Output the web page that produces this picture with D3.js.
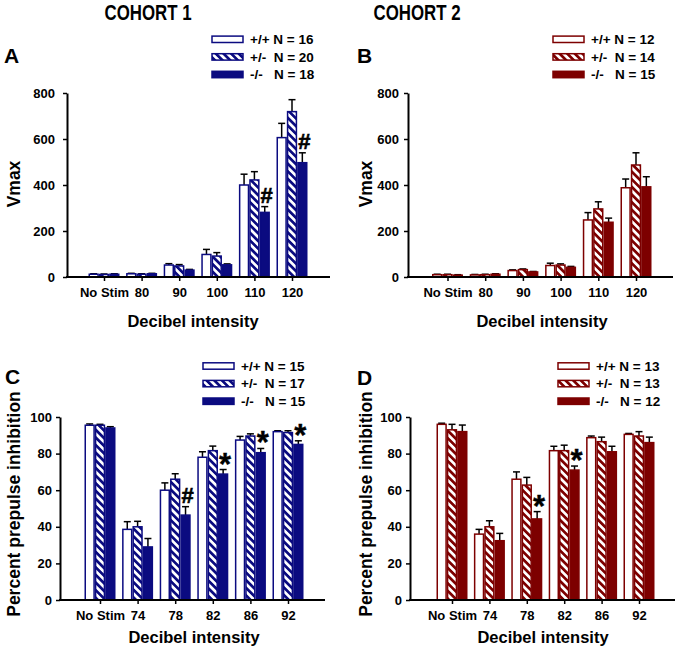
<!DOCTYPE html>
<html><head><meta charset="utf-8">
<script src="https://cdn.jsdelivr.net/npm/d3@7"></script>
<style>
body{margin:0;background:#fff}
svg{display:block}
text{font-family:"Liberation Sans",Arial,sans-serif;font-weight:bold;fill:#000}
</style>
</head><body>
<svg id="chart" width="681" height="652"></svg>
<script>
// ---------- data ----------
const genotypes = ["+/+", "+/-", "-/-"];
const vmaxCategories = ["No Stim", "80", "90", "100", "110", "120"];
const ppiCategories = ["No Stim", "74", "78", "82", "86", "92"];
const vmaxTicks = [0, 200, 400, 600, 800];
const ppiTicks = [0, 20, 40, 60, 80, 100];

// Panel A: Cohort 1 Vmax
const aWT = [12, 14, 52, 98, 400, 606];
const aWTerr = [2, 2, 6, 22, 47, 62];
const aHET = [11, 12, 48, 91, 422, 719];
const aHETerr = [2, 2, 6, 15, 36, 52];
const aKO = [12, 14, 30, 53, 281, 497];
const aKOerr = [2, 2, 3, 4, 25, 43];
const aLegend = ["+/+ N = 16", "+/-  N = 20", "-/-   N = 18"];

// Panel B: Cohort 2 Vmax
const bWT = [10, 9, 28, 50, 248, 388];
const bWTerr = [2, 2, 3, 10, 32, 38];
const bHET = [10, 10, 32, 52, 296, 487];
const bHETerr = [2, 2, 3, 5, 31, 53];
const bKO = [8, 12, 22, 42, 238, 392];
const bKOerr = [2, 2, 2, 4, 18, 44];
const bLegend = ["+/+ N = 12", "+/-  N = 14", "-/-   N = 15"];

// Panel C: Cohort 1 PPI
const cWT = [95.5, 38.6, 60, 78, 87.4, 92];
const cWTerr = [0.7, 4.2, 4, 3, 2, 0.5];
const cHET = [95.5, 40, 66, 81.6, 89.6, 91.5];
const cHETerr = [0.5, 3, 3, 2.5, 1.2, 1];
const cKO = [94, 29, 46.4, 68.8, 80.5, 85];
const cKOerr = [0.7, 4.6, 4.6, 2.5, 2.3, 2];
const cLegend = ["+/+ N = 15", "+/-  N = 17", "-/-   N = 15"];

// Panel D: Cohort 2 PPI
const dWT = [96, 36, 66, 81.6, 88.7, 90.5];
const dWTerr = [0.6, 2.6, 4, 2.4, 0.9, 0.5];
const dHET = [93, 40, 62.8, 81.6, 86.5, 89.6];
const dHETerr = [3, 3.3, 4.2, 3, 2.5, 2.4];
const dKO = [92, 32.4, 44.3, 71, 81, 86];
const dKOerr = [3.6, 4, 4, 2.2, 3, 3];
const dLegend = ["+/+ N = 13", "+/-  N = 13", "-/-   N = 12"];

// significance markers: [category index, genotype index, symbol]
const aMarks = [[4, 2, "#"], [5, 2, "#"]];
const bMarks = [];
const cMarks = [[2, 2, "#"], [3, 2, "*"], [4, 2, "*"], [5, 2, "*"]];
const dMarks = [[2, 2, "*"], [3, 2, "*"]];

const cohortTitles = ["COHORT 1", "COHORT 2"];

// ---------- drawing ----------
const BLUE = "#0b0b80";
const RED = "#7d0000";
const svg = d3.select("#chart");
const defs = svg.append("defs");

function makeHatch(id, color) {
  const p = defs.append("pattern")
    .attr("id", id).attr("patternUnits", "userSpaceOnUse")
    .attr("width", 5.4).attr("height", 5.4)
    .attr("patternTransform", "rotate(-45)");
  p.append("rect").attr("width", 5.4).attr("height", 5.4).attr("fill", "#fff");
  p.append("rect").attr("x", 0).attr("width", 2.7).attr("height", 5.4).attr("fill", color);
}
makeHatch("hatchBlue", BLUE);
makeHatch("hatchRed", RED);

svg.selectAll("text.cohort").data(cohortTitles).join("text")
  .attr("class", "cohort")
  .attr("x", (d, i) => i === 0 ? 148 : 417)
  .attr("y", 20)
  .attr("text-anchor", "middle")
  .attr("font-size", 22)
  .attr("textLength", 87)
  .attr("lengthAdjust", "spacingAndGlyphs")
  .text(d => d);

function drawPanel(cfg) {
  const g = svg.append("g");
  const color = cfg.color;
  const hatch = cfg.hatch;
  const x = d3.scaleLinear().domain([1, 6]).range([cfg.c0, cfg.c1]);
  const y = d3.scaleLinear().domain([0, cfg.max]).range([cfg.yBot, cfg.yTop]);
  const off = d3.scaleBand().domain(genotypes).range([-15.5, 15.5]);
  const bw = off.bandwidth();
  const fills = ["#fff", `url(#${hatch})`, color];

  const series = genotypes.map((gt, k) => ({
    gt, k, vals: cfg.series[k].map((v, i) => ({ i, v, e: cfg.errs[k][i] }))
  }));

  // error bars (drawn first, under the bars)
  series.forEach(s => {
    s.vals.forEach(d => {
      const cx = x(d.i + 1) + off(s.gt) + bw / 2;
      g.append("line").attr("x1", cx).attr("x2", cx)
        .attr("y1", y(d.v)).attr("y2", y(d.v + d.e))
        .attr("stroke", "#000").attr("stroke-width", 1.5);
      g.append("line").attr("x1", cx - 3.5).attr("x2", cx + 3.5)
        .attr("y1", y(d.v + d.e)).attr("y2", y(d.v + d.e))
        .attr("stroke", "#000").attr("stroke-width", 1.5);
    });
  });

  // bars
  series.forEach(s => {
    g.selectAll(null).data(s.vals).join("rect")
      .attr("x", d => x(d.i + 1) + off(s.gt) + 0.75)
      .attr("width", bw - 1.5)
      .attr("y", d => y(d.v))
      .attr("height", d => y(0) - y(d.v))
      .attr("fill", fills[s.k])
      .attr("stroke", color)
      .attr("stroke-width", 1.5);
  });

  // markers
  cfg.marks.forEach(([i, k, sym]) => {
    const cx = x(i + 1) + off(genotypes[k]) + bw / 2 + 2;
    const top = y(cfg.series[k][i] + cfg.errs[k][i]);
    g.append("text")
      .attr("x", cx).attr("y", sym === "#" ? top - 4 : top + 5)
      .attr("text-anchor", "middle")
      .attr("font-size", sym === "#" ? 22 : 31)
      .attr("stroke", "#000").attr("stroke-width", sym === "#" ? 0.6 : 0.4)
      .text(sym);
  });

  // y axis
  const ya = g.append("g").attr("transform", `translate(${cfg.x0},0)`)
    .call(d3.axisLeft(y).tickValues(cfg.ticks).tickSize(4).tickSizeOuter(0).tickPadding(cfg.tickPad));
  ya.select(".domain").attr("stroke", "#000").attr("stroke-width", 2);
  ya.selectAll(".tick line").attr("stroke", "#000").attr("stroke-width", 1.5);
  ya.selectAll(".tick text").attr("font-size", 13).attr("font-family", null).attr("fill", "#000");

  // x axis
  const xa = g.append("g").attr("transform", `translate(0,${cfg.yBot})`)
    .call(d3.axisBottom(x).tickValues([1, 2, 3, 4, 5, 6]).tickFormat(i => cfg.categories[i - 1])
      .tickSize(4).tickSizeOuter(0).tickPadding(7));
  xa.select(".domain").remove();
  xa.append("line").attr("x1", cfg.x0 - 1).attr("x2", cfg.x1).attr("y1", 0).attr("y2", 0)
    .attr("stroke", "#000").attr("stroke-width", 2);
  xa.selectAll(".tick line").attr("stroke", "#000").attr("stroke-width", 1.5);
  xa.selectAll(".tick text").attr("font-size", 13).attr("font-family", null).attr("fill", "#000");

  // titles
  g.append("text").attr("x", cfg.xtX).attr("y", cfg.xtY).attr("text-anchor", "middle")
    .attr("font-size", 16.5).text("Decibel intensity");
  g.append("text").attr("transform", `translate(${cfg.ytX},${cfg.ytY}) rotate(-90)`)
    .attr("text-anchor", "middle").attr("font-size", 17.5).text(cfg.ytitle);
  g.append("text").attr("x", cfg.lx).attr("y", cfg.ly).attr("font-size", 21).text(cfg.letter);

  // legend
  const lg = g.append("g");
  cfg.legend.forEach((t, k) => {
    const ry = cfg.legY + k * 17.6;
    lg.append("rect").attr("x", cfg.legX).attr("y", ry - 3.2).attr("width", 31).attr("height", 6.4)
      .attr("fill", fills[k]).attr("stroke", color).attr("stroke-width", 1.5);
    lg.append("text").attr("x", cfg.legX + 38).attr("y", ry + 4.6)
      .attr("font-size", 13.5).style("white-space", "pre").text(t);
  });
}

drawPanel({ letter: "A", lx: 4, ly: 63, color: BLUE, hatch: "hatchBlue",
  series: [aWT, aHET, aKO], errs: [aWTerr, aHETerr, aKOerr], marks: aMarks,
  categories: vmaxCategories, ticks: vmaxTicks, max: 800, ytitle: "Vmax",
  x0: 67, x1: 330, c0: 104, c1: 292, yTop: 93, yBot: 277, tickPad: 8,
  xtX: 193, xtY: 327, ytX: 20, ytY: 184, legX: 212, legY: 39.3, legend: aLegend });

drawPanel({ letter: "B", lx: 357, ly: 63, color: RED, hatch: "hatchRed",
  series: [bWT, bHET, bKO], errs: [bWTerr, bHETerr, bKOerr], marks: bMarks,
  categories: vmaxCategories, ticks: vmaxTicks, max: 800, ytitle: "Vmax",
  x0: 408, x1: 673, c0: 447.5, c1: 636, yTop: 93, yBot: 277, tickPad: 5,
  xtX: 542, xtY: 327, ytX: 372, ytY: 184, legX: 553, legY: 39.3, legend: bLegend });

drawPanel({ letter: "C", lx: 5, ly: 384, color: BLUE, hatch: "hatchBlue",
  series: [cWT, cHET, cKO], errs: [cWTerr, cHETerr, cKOerr], marks: cMarks,
  categories: ppiCategories, ticks: ppiTicks, max: 100, ytitle: "Percent prepulse inhibition",
  x0: 60, x1: 325, c0: 100, c1: 288, yTop: 417, yBot: 600, tickPad: 4,
  xtX: 194, xtY: 643, ytX: 20, ytY: 504, legX: 203, legY: 366, legend: cLegend });

drawPanel({ letter: "D", lx: 357, ly: 385, color: RED, hatch: "hatchRed",
  series: [dWT, dHET, dKO], errs: [dWTerr, dHETerr, dKOerr], marks: dMarks,
  categories: ppiCategories, ticks: ppiTicks, max: 100, ytitle: "Percent prepulse inhibition",
  x0: 410, x1: 675, c0: 452, c1: 639, yTop: 417, yBot: 600, tickPad: 4,
  xtX: 543, xtY: 643, ytX: 372, ytY: 504, legX: 558, legY: 366, legend: dLegend });
</script>
</body></html>
